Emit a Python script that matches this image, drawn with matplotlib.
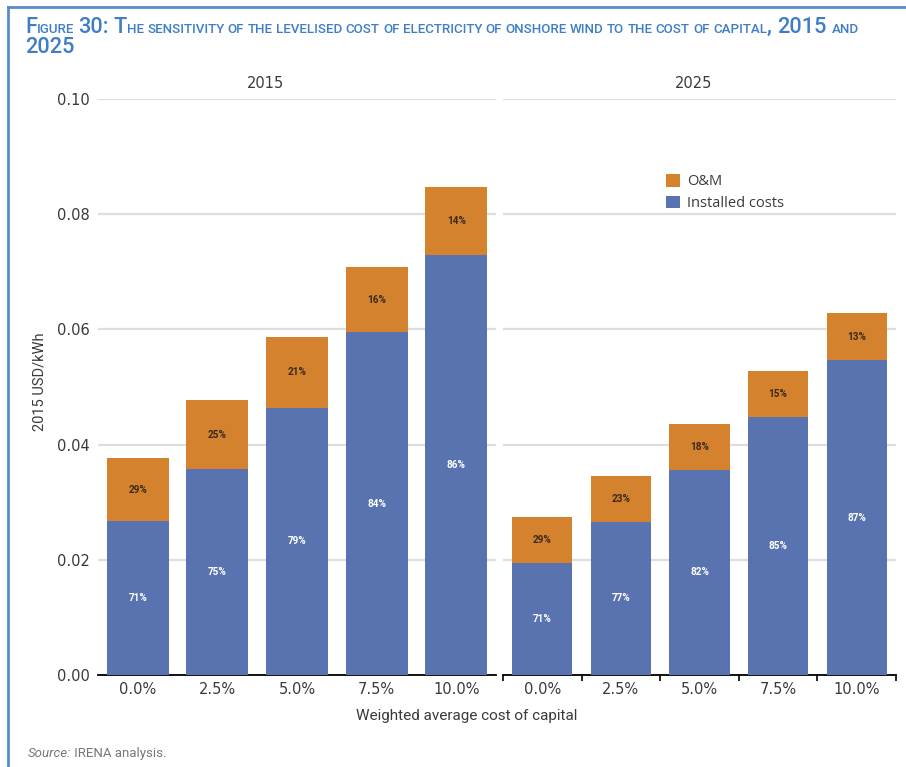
import matplotlib
matplotlib.use("Agg")
import matplotlib.pyplot as plt
from matplotlib.patches import Patch
from matplotlib.lines import Line2D
from matplotlib.ticker import FixedLocator
import numpy as np

# ---- data -------------------------------------------------------------
wacc_labels = ["0.0%", "2.5%", "5.0%", "7.5%", "10.0%"]
years = ["2015", "2025"]
lcoe_2015 = [0.0376, 0.0477, 0.0587, 0.0708, 0.0847]      # total LCOE, 2015 USD/kWh
lcoe_2025 = [0.0275, 0.0346, 0.0435, 0.0527, 0.0628]
installed_share_2015 = [71, 75, 79, 84, 86]                # % of LCOE from installed costs
installed_share_2025 = [71, 77, 82, 85, 87]
series_names = ["O&M", "Installed costs"]
y_ticks = [0.00, 0.02, 0.04, 0.06, 0.08, 0.10]

# ---- style --------------------------------------------------------------
BLUE = "#5873AF"
ORANGE = "#D5822F"
TITLE_BLUE = "#3F7EC6"
FRAME_BLUE = "#5B8ACF"
GRID = "#DEDEDE"
TEXT = "#3A3A3A"
NARROW = ["Roboto", "DejaVu Sans"]
W, H = 906, 767

fig = plt.figure(figsize=(W / 100, H / 100), dpi=100)
renderer = fig.canvas.get_renderer()


def fx(x):
    return x / W


def fy(y):
    return 1 - y / H


# page frame (top and left rules)
fig.add_artist(Line2D([fx(8), 1.0], [fy(7), fy(7)], color=FRAME_BLUE, lw=2,
                      transform=fig.transFigure))
fig.add_artist(Line2D([fx(8), fx(8)], [fy(7), 0.0], color=FRAME_BLUE, lw=2,
                      transform=fig.transFigure))


# ---- small-caps title ---------------------------------------------------
def space_width(size, family, weight):
    a = fig.text(0, 0, "x x", fontsize=size, family=family, fontweight=weight)
    b = fig.text(0, 0, "xx", fontsize=size, family=family, fontweight=weight)
    w = a.get_window_extent(renderer).width - b.get_window_extent(renderer).width
    a.remove()
    b.remove()
    return w


def small_caps(x_px, y_px, text, big, small, color, family, weight="medium"):
    runs = []
    for ch in text:
        if ch == " ":
            runs.append([" ", None])
            continue
        size = small if ch.islower() else big
        if runs and runs[-1][1] == size:
            runs[-1][0] += ch.upper()
        else:
            runs.append([ch.upper(), size])
    x = x_px
    artists = []
    last = big
    for s, size in runs:
        if size is None:
            x += space_width(last, family, weight)
            continue
        t = fig.text(fx(x), fy(y_px), s, fontsize=size, color=color,
                     family=family, fontweight=weight, ha="left",
                     va="baseline")
        x += t.get_window_extent(renderer).width
        artists.append(t)
        last = size
    return x, artists


line1 = ("Figure 30: The sensitivity of the levelised cost of electricity "
         "of onshore wind to the cost of capital, 2015 and")
line2 = "2025"
big, small = 13.0, 8.0
end, arts = small_caps(25, 33, line1, big, small, TITLE_BLUE, NARROW)
scale = (858 - 25) / (end - 25)
for a in arts:
    a.remove()
big, small = big * scale, small * scale
small_caps(25, 33, line1, big, small, TITLE_BLUE, NARROW)
small_caps(25, 53, line2, big, small, TITLE_BLUE, NARROW)

# ---- panels -------------------------------------------------------------
ax_l = fig.add_axes([fx(98), fy(675), (496 - 98) / W, (675 - 99) / H])
ax_r = fig.add_axes([fx(503), fy(675), (896 - 503) / W, (675 - 99) / H])

panels = [
    (ax_l, lcoe_2015, installed_share_2015, 0.78),
    (ax_r, lcoe_2025, installed_share_2025, 0.765),
]
x = np.arange(len(wacc_labels))
for ax, totals, shares, width in panels:
    totals = np.asarray(totals)
    shares = np.asarray(shares)
    installed = totals * shares / 100.0
    om = totals - installed
    ax.bar(x, installed, width, color=BLUE, zorder=3)
    ax.bar(x, om, width, bottom=installed, color=ORANGE, zorder=3)
    for xi, inst, o, s in zip(x, installed, om, shares):
        ax.text(xi, inst / 2, f"{s}%", ha="center", va="center", color="white",
                fontsize=7.2, fontweight="bold", family=NARROW, zorder=4)
        ax.text(xi, inst + o / 2, f"{100 - s}%", ha="center", va="center",
                color="#3A2A1A", fontsize=7.2, fontweight="bold",
                family=NARROW, zorder=4)
    ax.set_xlim(-0.5, len(x) - 0.5)
    ax.set_ylim(0, 0.10)
    ax.set_yticks(y_ticks)
    ax.yaxis.grid(True, color=GRID, lw=1.6)
    ax.set_axisbelow(True)
    for side in ("top", "right", "left"):
        ax.spines[side].set_visible(False)
    ax.spines["bottom"].set_color("black")
    ax.spines["bottom"].set_linewidth(1.3)
    ax.set_xticks(x, wacc_labels)
    ax.tick_params(axis="x", length=0, pad=5, labelsize=10.5, labelcolor=TEXT)
    ax.tick_params(axis="y", length=0)

ax_l.set_yticklabels([f"{v:.2f}" for v in y_ticks])
ax_l.tick_params(axis="y", pad=6, labelsize=10.5, labelcolor=TEXT)
ax_r.tick_params(axis="y", labelleft=False)

# category boundary ticks on the 2025 panel
ax_r.xaxis.set_minor_locator(FixedLocator(np.arange(-0.5, len(x), 1.0)))
ax_r.tick_params(axis="x", which="minor", length=4, width=1.2, color="black",
                 direction="out")

# panel headers
fig.text(fx(265), fy(83), years[0], ha="center", va="center", fontsize=10.5,
         color=TEXT)
fig.text(fx(694), fy(83), years[1], ha="center", va="center", fontsize=10.5,
         color=TEXT)

# axis titles
fig.text(fx(40), fy(382), "2015 USD/kWh", rotation=90, ha="center",
         va="center", fontsize=10.5, color=TEXT, family=NARROW)
fig.text(fx(467), fy(716), "Weighted average cost of capital", ha="center",
         va="center", fontsize=11, color=TEXT, family=NARROW)

# legend
handles = [Patch(facecolor=ORANGE), Patch(facecolor=BLUE)]
fig.legend(handles, series_names, loc="upper left",
           bbox_to_anchor=(fx(666), fy(174)), frameon=False,
           handlelength=0.95, handleheight=0.95, handletextpad=0.5,
           labelspacing=0.45, borderpad=0, borderaxespad=0, labelcolor=TEXT,
           prop={"family": "Open Sans", "size": 10.5})

# source line
src = fig.text(fx(28), fy(757), "Source:", ha="left", va="baseline",
               fontsize=9.5, style="italic", color="#777777", family=NARROW)
sx = 28 + src.get_window_extent(renderer).width
fig.text(fx(sx), fy(757), " IRENA analysis.", ha="left", va="baseline",
         fontsize=9.5, color="#777777", family=NARROW)

fig.savefig("out.png", dpi=100)
